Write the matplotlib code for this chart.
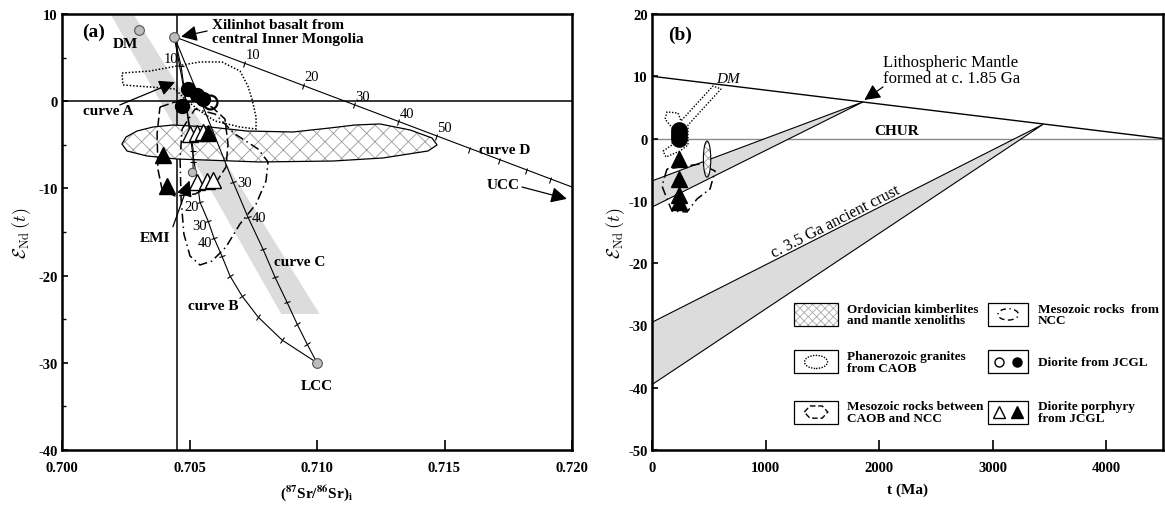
import numpy as np
import matplotlib
matplotlib.use("Agg")
import matplotlib.pyplot as plt
from matplotlib.patches import Polygon, Rectangle, Ellipse
from matplotlib.markers import MarkerStyle

plt.rcParams['font.family'] = 'Liberation Serif'
plt.rcParams['mathtext.fontset'] = 'stix'
plt.rcParams['font.weight'] = 'bold'
plt.rcParams['axes.labelweight'] = 'bold'
plt.rcParams['axes.unicode_minus'] = False
plt.rcParams['hatch.linewidth'] = 0.6
plt.rcParams['hatch.color'] = '#999999'

# ---------------- panel (a) data ----------------
band_x = [0.7019, 0.7028, 0.7101, 0.7086]
band_y = [10, 10, -24.4, -24.4]

dm_a = (0.7030, 8.2)
xilinhot = (0.7044, 7.4)
lcc = (0.7100, -30.0)
emi_end = (0.7051, -8.1)

curve_a_x = [0.7044, 0.70467, 0.7049, 0.70514, 0.70514]
curve_a_y = [7.4, 4.04, -0.89, -5.48, -8.1]
curve_a_tick_x = [0.70467, 0.70514, 0.70514]
curve_a_tick_y = [4.04, -5.71, -6.97]
curve_a_labels = ['10']

curve_b_x = [0.7044, 0.70478, 0.7051, 0.70529, 0.70541, 0.70573, 0.70596,
             0.70627, 0.70659, 0.70706, 0.70769, 0.70863, 0.7100]
curve_b_y = [7.4, 1.40, -5.48, -8.92, -11.56, -13.74, -15.69,
             -17.75, -20.05, -22.34, -24.75, -27.39, -30.0]
curve_b_tick_x = curve_b_x[4:12]
curve_b_tick_y = curve_b_y[4:12]
curve_b_labels = ['20', '30', '40']

curve_c_x = [0.7044, 0.70557, 0.70671, 0.70729, 0.70788, 0.70835, 0.70882,
             0.70922, 0.70961, 0.7100]
curve_c_y = [7.4, -0.89, -9.27, -13.28, -16.95, -20.16, -23.03,
             -25.55, -27.84, -30.0]
curve_c_tick_x = curve_c_x[2:9]
curve_c_tick_y = curve_c_y[2:9]
curve_c_labels = ['30', '40']

curve_d_x = [0.7044, 0.7200]
curve_d_y = [7.4, -9.84]
curve_d_tick_x = [0.70714, 0.70945, 0.71145, 0.71318, 0.71467, 0.71596,
                  0.71714, 0.71820, 0.71914]
curve_d_tick_y = [4.32, 1.74, -0.49, -2.44, -4.11, -5.54, -6.86, -8.00, -9.09]
curve_d_labels = ['10', '20', '30', '40', '50']

kimb_x = [0.70235, 0.70251, 0.70294, 0.70357, 0.70435, 0.70580, 0.70725,
          0.70906, 0.71051, 0.71149, 0.71247, 0.71365, 0.71451, 0.71471,
          0.71435, 0.71259, 0.71063, 0.70776, 0.70451, 0.70333, 0.70255]
kimb_y = [-4.91, -4.11, -3.42, -2.96, -2.73, -2.96, -3.42, -3.53, -3.07,
          -2.73, -2.61, -3.30, -4.22, -5.02, -5.71, -6.51, -6.86, -6.97,
          -6.63, -6.28, -5.71]

gran_x = [0.70235, 0.70345, 0.70451, 0.70541, 0.70627, 0.70698, 0.70729,
          0.70745, 0.70761, 0.70761, 0.70698, 0.70600, 0.70541, 0.70482,
          0.70443, 0.70345, 0.70239]
gran_y = [3.23, 3.46, 4.04, 4.50, 4.50, 3.46, 1.74, 0.25, -1.81, -3.19,
          -2.96, -2.27, -1.12, 0.25, 1.40, 1.63, 1.86]

between_x = [0.70384, 0.70443, 0.70522, 0.70588, 0.70639, 0.70651, 0.70643,
             0.70600, 0.70522, 0.70443, 0.70392, 0.70376, 0.70373]
between_y = [-0.67, -0.09, -0.09, -0.67, -2.04, -4.91, -7.55, -9.50,
             -10.64, -10.87, -10.07, -7.78, -3.76]

ncc_x = [0.70471, 0.70522, 0.70600, 0.70678, 0.70769, 0.70808, 0.70800,
         0.70761, 0.70698, 0.70643, 0.70588, 0.70541, 0.70502, 0.70478,
         0.70467, 0.70463]
ncc_y = [-3.19, -0.89, -1.47, -3.76, -5.48, -6.97, -9.15, -11.79, -14.08,
         -16.72, -18.33, -18.78, -17.75, -15.23, -11.21, -6.63]

dior_fill_x = [0.70494, 0.70529, 0.70471, 0.70553]
dior_fill_y = [1.4, 0.7, -0.55, 0.25]
dior_open_x = [0.70580]
dior_open_y = [-0.1]

porph_open_x = [0.70502, 0.70529, 0.70553, 0.70529, 0.70569, 0.70592]
porph_open_y = [-3.76, -3.65, -3.53, -9.27, -9.15, -9.04]
porph_fill_x = [0.70573, 0.70396, 0.70412]
porph_fill_y = [-3.6, -6.17, -9.72]

# ---------------- panel (b) data ----------------
dm_t = [0, 4500]
dm_e = [10, 0]
chur_t = [0, 4500]
chur_e = [0, 0]
lith_t = [0, 1860, 0]
lith_e = [-6.8, 5.9, -11.0]
crust_t = [0, 3445, 0]
crust_e = [-29.5, 2.3, -39.5]

b_circ_t = [240, 240, 240, 240]
b_circ_e = [1.4, 0.9, 0.4, -0.1]
b_tri_t = [235, 235, 235, 235]
b_tri_e = [-3.3, -6.5, -9.0, -10.2]

b_gran_t = [97, 176, 185, 115, 132, 229, 255, 537, 608, 317, 317, 247, 123]
b_gran_e = [-2.0, -1.03, 1.54, 3.14, 4.27, 4.11, 2.82, 8.44, 7.96, 2.18,
            -1.03, -1.99, -2.96]
b_meso_t = [132, 88, 132, 176, 308, 396, 511, 555, 423]
b_meso_e = [-4.88, -7.61, -9.70, -11.63, -11.79, -9.70, -8.09, -5.20, -4.08]
b_kimb = (485, -3.3, 65, 5.8)

legend_text = ["Ordovician kimberlites\nand mantle xenoliths",
               "Phanerozoic granites\nfrom CAOB",
               "Mesozoic rocks between\nCAOB and NCC",
               "Mesozoic rocks  from\nNCC",
               "Diorite from JCGL",
               "Diorite porphyry\nfrom JCGL"]

eps_label = r'$\mathcal{E}_{\mathrm{Nd}}\,(t)$'


def tick_marks(ax, px, py, tx, ty, size=5):
    P = ax.transData.transform(np.column_stack([px, py]))
    T = ax.transData.transform(np.column_stack([tx, ty]))
    for (x, y), t in zip(zip(tx, ty), T):
        i = int(np.argmin(np.hypot(*(P - t).T)))
        i = min(i, len(P) - 2)
        v = P[i + 1] - P[i]
        ang = np.degrees(np.arctan2(v[1], v[0]))
        ax.plot(x, y, marker=MarkerStyle('|').rotated(deg=ang), ms=size,
                mew=0.8, color='black', zorder=4)


def arrow(ax, tip, tail):
    ax.annotate('', xy=tip, xytext=tail,
                arrowprops=dict(arrowstyle='-|>,head_length=0.6,head_width=0.3',
                                color='black', lw=0.9, mutation_scale=16,
                                shrinkA=0, shrinkB=0), zorder=6)


fig = plt.figure(figsize=(11.65, 5.06), dpi=100)
ax1 = fig.add_axes([62 / 1165, 55 / 506, 510 / 1165, 436 / 506])
ax2 = fig.add_axes([652 / 1165, 55 / 506, 511 / 1165, 436 / 506])

for ax in (ax1, ax2):
    for s in ax.spines.values():
        s.set_linewidth(1.8)

# ================= panel (a) =================
ax1.set_xlim(0.700, 0.720)
ax1.set_ylim(-40, 10)
ax1.add_patch(Polygon(np.column_stack([band_x, band_y]), closed=True,
                      facecolor='#dcdcdc', edgecolor='none', zorder=1))
ax1.axvline(0.7045, color='black', lw=1.1, zorder=2)
ax1.axhline(0, color='black', lw=1.1, zorder=2)

ax1.add_patch(Polygon(np.column_stack([kimb_x, kimb_y]), closed=True,
                      facecolor='white', edgecolor='#999999', hatch='xx',
                      lw=0, zorder=2))
ax1.add_patch(Polygon(np.column_stack([kimb_x, kimb_y]), closed=True,
                      fill=False, edgecolor='black', lw=0.9, zorder=3))
ax1.add_patch(Polygon(np.column_stack([gran_x, gran_y]), closed=True,
                      fill=False, edgecolor='black', lw=1.1, ls=(0, (1, 1.2)),
                      zorder=3))
ax1.add_patch(Polygon(np.column_stack([between_x, between_y]), closed=True,
                      fill=False, edgecolor='black', lw=1.1,
                      ls=(0, (6, 2.5)), zorder=3))
ax1.add_patch(Polygon(np.column_stack([ncc_x, ncc_y]), closed=True,
                      fill=False, edgecolor='black', lw=1.1,
                      ls=(0, (6, 2.5, 1, 2.5)), zorder=3))

for cx, cy in [(curve_a_x, curve_a_y), (curve_b_x, curve_b_y),
               (curve_c_x, curve_c_y), (curve_d_x, curve_d_y)]:
    ax1.plot(cx, cy, color='black', lw=0.8, zorder=4)

tick_marks(ax1, curve_a_x, curve_a_y, curve_a_tick_x, curve_a_tick_y)
tick_marks(ax1, curve_b_x, curve_b_y, curve_b_tick_x, curve_b_tick_y)
tick_marks(ax1, curve_c_x, curve_c_y, curve_c_tick_x, curve_c_tick_y)
tick_marks(ax1, curve_d_x, curve_d_y, curve_d_tick_x, curve_d_tick_y)

num = dict(fontsize=10.5, fontweight='normal', zorder=7)
for lab, x, y in zip(curve_d_labels, curve_d_tick_x, curve_d_tick_y):
    ax1.annotate(lab, (x, y), xytext=(1, 2), textcoords='offset points',
                 ha='left', va='bottom', **num)
for lab, x, y in zip(curve_a_labels, curve_a_tick_x, curve_a_tick_y):
    ax1.annotate(lab, (x, y), xytext=(-2, 1), textcoords='offset points',
                 ha='right', va='bottom', **num)
for lab, x, y in zip(curve_b_labels, curve_b_tick_x, curve_b_tick_y):
    ax1.annotate(lab, (x, y), xytext=(-1, -3), textcoords='offset points',
                 ha='right', va='center', **num)
for lab, x, y in zip(curve_c_labels, curve_c_tick_x, curve_c_tick_y):
    ax1.annotate(lab, (x, y), xytext=(3, 0), textcoords='offset points',
                 ha='left', va='center', **num)

ax1.plot(porph_open_x, porph_open_y, '^', ms=11, mfc='white', mec='black',
         mew=1.0, zorder=5)
ax1.plot(porph_fill_x, porph_fill_y, '^', ms=11, mfc='black', mec='black',
         zorder=5)
ax1.plot(dior_fill_x, dior_fill_y, 'o', ms=10, mfc='black', mec='black',
         zorder=5)
ax1.plot(dior_open_x, dior_open_y, 'o', ms=10, mfc='none', mec='black',
         mew=1.6, zorder=5)

for p in (dm_a, xilinhot, lcc):
    ax1.plot(*p, 'o', ms=7, mfc='#bdbdbd', mec='#555555', mew=0.8, zorder=6)
ax1.plot(*emi_end, 'o', ms=6, mfc='#bdbdbd', mec='#555555', mew=0.8, zorder=6)

lab = dict(fontsize=11, zorder=7)
ax1.text(0.7008, 8.05, '(a)', fontsize=14, va='center', ha='left')
ax1.text(0.70247, 6.6, 'DM', ha='center', va='center', **lab)
ax1.text(0.70588, 7.95, 'Xilinhot basalt from\ncentral Inner Mongolia',
         ha='left', va='center', linespacing=1.1, **lab)
ax1.text(0.70180, -1.12, 'curve A', ha='center', va='center', **lab)
ax1.text(0.70365, -15.6, 'EMI', ha='center', va='center', **lab)
ax1.text(0.70933, -18.4, 'curve C', ha='center', va='center', **lab)
ax1.text(0.70592, -23.4, 'curve B', ha='center', va='center', **lab)
ax1.text(0.71737, -5.5, 'curve D', ha='center', va='center', **lab)
ax1.text(0.71730, -9.6, 'UCC', ha='center', va='center', **lab)
ax1.text(0.71000, -32.6, 'LCC', ha='center', va='center', **lab)

arrow(ax1, (0.70467, 7.4), (0.70569, 8.05))
arrow(ax1, (0.70443, 2.2), (0.70227, -0.43))
arrow(ax1, (0.70500, -9.1), (0.70435, -14.4))
arrow(ax1, (0.71980, -11.2), (0.71804, -9.84))

ax1.set_xticks([0.700, 0.705, 0.710, 0.715, 0.720])
ax1.set_xticklabels(['0.700', '0.705', '0.710', '0.715', '0.720'])
ax1.set_yticks([10, 0, -10, -20, -30, -40])
ax1.set_yticks(np.arange(-35, 10, 10), minor=True)
ax1.tick_params(axis='x', direction='in', length=7, width=1.2,
                labelsize=10.5, pad=8)
ax1.tick_params(axis='y', direction='in', length=4, width=1.2,
                labelsize=10.5, pad=3)
ax1.tick_params(axis='y', which='minor', direction='in', length=3, width=1.0)
ax1.set_xlabel(r'($^{\mathbf{87}}$Sr/$^{\mathbf{86}}$Sr)$_{\mathrm{i}}$',
               fontsize=11, labelpad=6)
ax1.set_ylabel(eps_label, fontsize=13, fontweight='normal', labelpad=4,
               math_fontfamily='cm')

# ================= panel (b) =================
ax2.set_xlim(0, 4500)
ax2.set_ylim(-50, 20)
ax2.add_patch(Polygon(np.column_stack([lith_t, lith_e]), closed=True,
                      facecolor='#dcdcdc', edgecolor='black', lw=0.8, zorder=2))
ax2.add_patch(Polygon(np.column_stack([crust_t, crust_e]), closed=True,
                      facecolor='#dcdcdc', edgecolor='black', lw=0.8, zorder=2))
ax2.plot(chur_t, chur_e, color='#8a8a8a', lw=1.0, zorder=1)
ax2.plot(dm_t, dm_e, color='black', lw=1.0, zorder=3)

ax2.add_patch(Polygon(np.column_stack([b_gran_t, b_gran_e]), closed=True,
                      fill=False, edgecolor='black', lw=1.0, ls=(0, (1, 1.2)),
                      zorder=4))
ax2.add_patch(Polygon(np.column_stack([b_meso_t, b_meso_e]), closed=True,
                      fill=False, edgecolor='black', lw=1.1,
                      ls=(0, (6, 2.5, 1, 2.5)), zorder=4))
ax2.add_patch(Ellipse(b_kimb[:2], b_kimb[2], b_kimb[3], facecolor='white',
                      edgecolor='#999999', hatch='xxxx', lw=0, zorder=4))
ax2.add_patch(Ellipse(b_kimb[:2], b_kimb[2], b_kimb[3], fill=False,
                      edgecolor='black', lw=0.8, zorder=4))
ax2.plot(b_circ_t, b_circ_e, 'o', ms=11, color='black', zorder=5)
ax2.plot(b_tri_t, b_tri_e, '^', ms=12, color='black', zorder=5)

ax2.text(247, 16.8, '(b)', fontsize=14, ha='center', va='center')
ax2.text(670, 9.7, 'DM', fontsize=11, style='italic', fontweight='normal',
         ha='center', va='center')
ax2.text(2158, 1.3, 'CHUR', fontsize=11, ha='center', va='center')
ax2.text(2035, 11.0, 'Lithospheric Mantle\nformed at c. 1.85 Ga',
         fontsize=12, fontweight='normal', ha='left', va='center',
         linespacing=0.95)
ax2.text(1620, -13.3, 'c. 3.5 Ga ancient crust', fontsize=11.5,
         fontweight='normal', ha='center', va='center', rotation=27,
         rotation_mode='anchor')
arrow(ax2, (1870, 6.2), (2035, 8.3))

# legend boxes (axes fraction)
bx_left = [0.278, 0.658]
bx_w = [0.086, 0.078]
rows = [0.311, 0.202, 0.087]
bh = 0.053
tx = [0.382, 0.755]
lg = dict(transform=ax2.transAxes, zorder=8)
for col in range(2):
    for r, yc in enumerate(rows):
        ax2.add_patch(Rectangle((bx_left[col], yc - bh / 2), bx_w[col], bh,
                                fill=False, edgecolor='black', lw=0.9, **lg))
        ax2.text(tx[col], yc, legend_text[col * 3 + r], fontsize=9.5,
                 ha='left', va='center', linespacing=0.95,
                 transform=ax2.transAxes)
ax2.add_patch(Rectangle((bx_left[0], rows[0] - bh / 2), bx_w[0], bh,
                        facecolor='white', edgecolor='#aaaaaa', hatch='xxxx',
                        lw=0, transform=ax2.transAxes, zorder=7))
cx0 = bx_left[0] + bx_w[0] / 2
cx1 = bx_left[1] + bx_w[1] / 2
ax2.add_patch(Ellipse((cx0, rows[1]), 0.045, 0.03, fill=False,
                      edgecolor='black', lw=1.0, ls=(0, (1, 1)), **lg))
hex_x = cx0 + np.array([-0.023, -0.012, 0.012, 0.023, 0.012, -0.012])
hex_y = rows[2] + np.array([0, 0.014, 0.014, 0, -0.014, -0.014])
ax2.add_patch(Polygon(np.column_stack([hex_x, hex_y]), closed=True,
                      fill=False, edgecolor='black', lw=1.0,
                      ls=(0, (4, 2)), **lg))
ax2.add_patch(Ellipse((cx1, rows[0]), 0.04, 0.026, fill=False,
                      edgecolor='black', lw=1.0, ls=(0, (4, 2.5, 1, 2.5)), **lg))
ax2.plot([cx1 - 0.017], [rows[1]], 'o', ms=6.5, mfc='white', mec='black',
         mew=1.0, **lg)
ax2.plot([cx1 + 0.017], [rows[1]], 'o', ms=6.5, color='black', **lg)
ax2.plot([cx1 - 0.017], [rows[2]], '^', ms=8.5, mfc='white', mec='black',
         mew=1.0, **lg)
ax2.plot([cx1 + 0.017], [rows[2]], '^', ms=8.5, color='black', **lg)

ax2.set_xticks([0, 1000, 2000, 3000, 4000])
ax2.set_yticks(np.arange(20, -51, -10))
ax2.tick_params(axis='x', direction='in', length=7, width=1.2,
                labelsize=10.5, pad=8)
ax2.tick_params(axis='y', direction='in', length=4, width=1.2,
                labelsize=10.5, pad=3)
ax2.set_xlabel('t (Ma)', fontsize=11, labelpad=6)
ax2.set_ylabel(eps_label, fontsize=13, fontweight='normal', labelpad=1,
               math_fontfamily='cm')

fig.savefig('out.png', dpi=100)
